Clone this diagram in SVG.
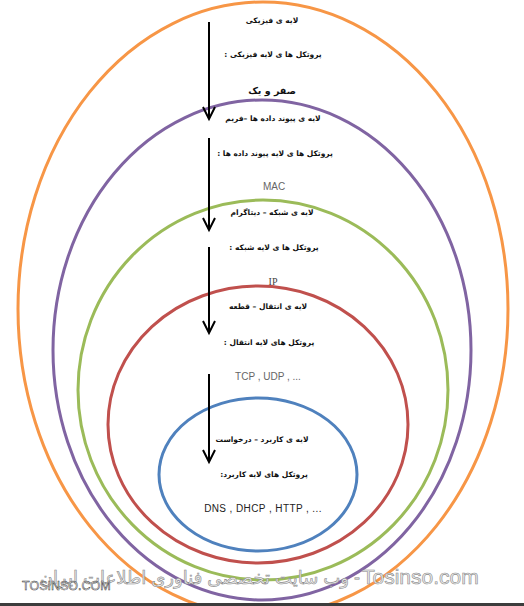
<svg xmlns="http://www.w3.org/2000/svg" width="524" height="606" viewBox="0 0 524 606">
<style>
.ring{fill:none;stroke-width:3}
.fa{font-family:"DejaVu Sans",sans-serif;font-weight:bold;font-size:7.5px;fill:#111;text-anchor:middle;direction:rtl;unicode-bidi:embed}
.en{font-family:"Liberation Sans","DejaVu Sans",sans-serif;font-size:10px;fill:#666;text-anchor:middle}
.arrow{stroke:#000;stroke-width:2;fill:none}
.wm{font-family:"Liberation Sans","DejaVu Sans",sans-serif;fill:#ececec;stroke:#8a8a8a;stroke-width:0.6}
</style>
<defs>
<marker id="head" markerUnits="userSpaceOnUse" viewBox="-14 -8 16 16" refX="0" refY="0" markerWidth="16" markerHeight="16" orient="auto" overflow="visible">
<path d="M-12,-6 L0,0 L-12,6" fill="none" stroke="#000" stroke-width="2"/>
</marker>
</defs>
<rect width="524" height="606" fill="#fff"/>
<g id="physical">
<ellipse class="ring" cx="263" cy="309" rx="245" ry="307" stroke="#F79646"/>
<text class="fa" x="272" y="23" direction="rtl">لایه ی فیزیکی</text>
<text class="fa" x="273" y="57" direction="rtl">پروتکل ها ی لایه فیزیکی :</text>
<text class="fa" x="272" y="94" direction="rtl" style="font-size:9.5px">صفر و یک</text>
</g>
<g id="datalink">
<ellipse class="ring" cx="262" cy="350" rx="209" ry="250" stroke="#8064A2"/>
<text class="fa" x="273" y="121" direction="rtl">لایه ی پیوند داده ها –فریم</text>
<text class="fa" x="275" y="156" direction="rtl">پروتکل ها ی لایه پیوند داده ها :</text>
<text class="en" x="274" y="190">MAC</text>
</g>
<g id="network">
<ellipse class="ring" cx="263" cy="390" rx="185" ry="190" stroke="#9BBB59"/>
<text class="fa" x="272" y="215" direction="rtl">لایه ی شبکه – دیتاگرام</text>
<text class="fa" x="274" y="250" direction="rtl">پروتکل ها ی لایه شبکه :</text>
<text class="en" x="273" y="285" style="font-family:'Liberation Serif',serif;fill:#444">IP</text>
</g>
<g id="transport">
<ellipse class="ring" cx="258" cy="424.5" rx="150" ry="138.5" stroke="#C0504D"/>
<text class="fa" x="268" y="309" direction="rtl">لایه ی انتقال – قطعه</text>
<text class="fa" x="269" y="345" direction="rtl">پروتکل های لایه انتقال :</text>
<text class="en" x="268" y="380">TCP , UDP , ...</text>
</g>
<g id="application">
<ellipse class="ring" cx="258" cy="474.5" rx="99" ry="76.5" stroke="#4F81BD"/>
<text class="fa" x="262" y="442" direction="rtl">لایه ی کاربرد – درخواست</text>
<text class="fa" x="264" y="477" direction="rtl">پروتکل های لایه کاربرد:</text>
<text class="en" x="263" y="512" style="fill:#222;letter-spacing:0.4px">DNS , DHCP , HTTP , ...</text>
</g>
<g id="connectors">
<line class="arrow" x1="209" y1="22" x2="209" y2="119" marker-end="url(#head)"/>
<line class="arrow" x1="209" y1="138" x2="209" y2="230" marker-end="url(#head)"/>
<line class="arrow" x1="209" y1="247" x2="209" y2="333" marker-end="url(#head)"/>
<line class="arrow" x1="209" y1="374" x2="209" y2="462" marker-end="url(#head)"/>
</g>
<g id="watermark">
<text class="wm" x="360" y="584" text-anchor="end" font-size="18">وب سایت تخصصی فناوری اطلاعات ایران -</text>
<text class="wm" x="362" y="584" font-size="21">Tosinso.com</text>
<text class="wm" x="22" y="590" font-size="12.5" style="fill:#fff;stroke:#333;stroke-width:0.5">TOSINSO.COM</text>
</g>
<rect x="0" y="603" width="524" height="3" fill="#3c3c3c"/>
</svg>
